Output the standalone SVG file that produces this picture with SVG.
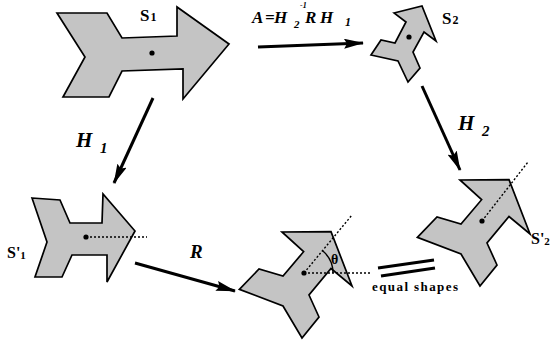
<svg xmlns="http://www.w3.org/2000/svg" width="560" height="345" viewBox="0 0 560 345">
<style>
.shape{fill:#c4c4c4;stroke:#000;stroke-width:1.7;stroke-linejoin:miter}
.dot{fill:#000}
.dotted{stroke:#000;stroke-width:1.4;stroke-dasharray:2 2;fill:none}
.arr{stroke:#000;stroke-width:3;fill:none;marker-end:url(#ah)}
.lab{font-family:"Liberation Serif","Times New Roman",serif;font-weight:bold;fill:#000}
.it{font-style:italic}
</style>
<defs>
<marker id="ah" viewBox="0 0 20 10" refX="19" refY="5" markerWidth="20" markerHeight="10" markerUnits="userSpaceOnUse" orient="auto">
<path d="M0,0 L20,5 L0,10 L3,5 Z" fill="#000"/>
</marker>
</defs>
<rect width="560" height="345" fill="#fff"/>
<g id="connectors">
<line class="arr" x1="258" y1="47" x2="363" y2="43"/>
<line class="arr" x1="153" y1="98" x2="114" y2="183"/>
<line class="arr" x1="422" y1="86" x2="460" y2="170"/>
<line class="arr" x1="135" y1="263" x2="235" y2="291"/>
<line x1="378" y1="268" x2="434" y2="260" stroke="#000" stroke-width="3.2"/>
<line x1="381" y1="276" x2="435" y2="268" stroke="#000" stroke-width="3.2"/>
</g>
<g id="S1">
<polygon class="shape" points="57,13 107,13 122,38 177,36 177,7 229,44 183,99 183,69 122,71 109,97 63,97 85,57"/>
<circle class="dot" cx="152" cy="53" r="2.6"/>
<text class="lab" x="140" y="21" font-size="17">S<tspan font-size="12" dx="1">1</tspan></text>
</g>
<g id="S2">
<polygon class="shape" points="394,13 422,6 436,41 424,32 413,52 420,68 408,82 398,61 371,55 381,40 395,43 406,22"/>
<circle class="dot" cx="409" cy="37" r="2.6"/>
<text class="lab" x="442" y="24" font-size="17">S<tspan font-size="12" dx="1">2</tspan></text>
</g>
<g id="S1p">
<polygon class="shape" points="32,198 60,200 70,223 102,223 103,194 135,231 107,282 107,255 72,255 62,277 35,277 47,242"/>
<line class="dotted" x1="86" y1="237" x2="147" y2="237"/>
<circle class="dot" cx="86" cy="237" r="2.6"/>
<text class="lab" x="7" y="258" font-size="16">S'<tspan font-size="11" dy="1">1</tspan></text>
</g>
<g id="RS1p">
<polygon class="shape" points="239.4,289.3 259,269 283,276 303.6,251.7 282,232 331,231.6 352,286 331,268.5 309,295 319,317 302,338 283,306"/>
<line class="dotted" x1="304" y1="273" x2="372" y2="273"/>
<line class="dotted" x1="304" y1="273" x2="352" y2="215"/>
<path d="M322.6,250.8 A29,29 0 0 1 333,273" fill="none" stroke="#000" stroke-width="1.4"/>
<circle class="dot" cx="304" cy="273" r="2.6"/>
<text class="lab" x="331" y="264" font-size="14" font-weight="normal">θ</text>
</g>
<g id="S2p">
<polygon class="shape" transform="translate(178,-52)" points="239.4,289.3 259,269 283,276 303.6,251.7 282,232 331,231.6 352,286 331,268.5 309,295 319,317 302,338 283,306"/>
<line class="dotted" x1="482" y1="221" x2="528" y2="162"/>
<circle class="dot" cx="482" cy="221" r="2.6"/>
<text class="lab" x="531" y="244" font-size="16">S'<tspan font-size="11" dy="1">2</tspan></text>
</g>
<g id="labels">
<text class="lab it" y="23" font-size="17"><tspan x="252">A</tspan><tspan x="265">=</tspan><tspan x="274">H</tspan><tspan x="294" y="28" font-size="11">2</tspan><tspan x="300" y="8" font-size="8">-1</tspan><tspan x="305" y="23">R</tspan><tspan x="320">H</tspan><tspan x="345" y="26" font-size="12">1</tspan></text>
<text class="lab it" y="147" font-size="21"><tspan x="76">H</tspan><tspan x="100" y="153" font-size="15">1</tspan></text>
<text class="lab it" y="130" font-size="21"><tspan x="458">H</tspan><tspan x="482" y="136" font-size="15">2</tspan></text>
<text class="lab it" x="190" y="258" font-size="19">R</text>
<text class="lab" x="372" y="291" font-size="13" textLength="86">equal shapes</text>
</g>
</svg>
